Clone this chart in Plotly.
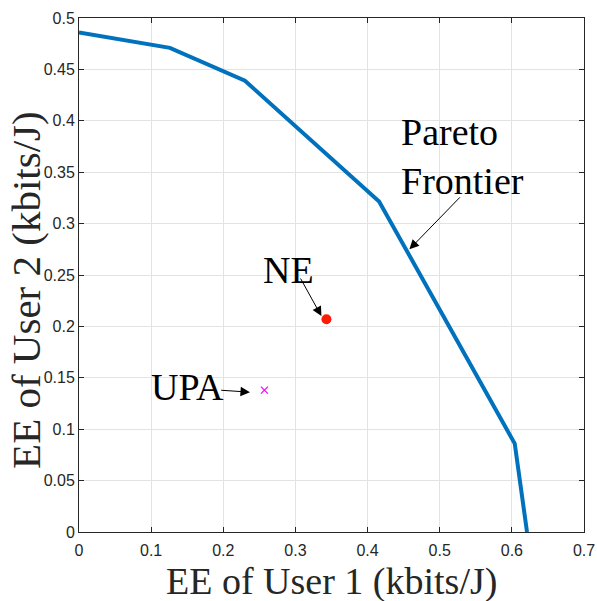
import plotly.graph_objects as go

# Pareto frontier
pareto_x = [0.0, 0.126, 0.230, 0.416, 0.604, 0.621]
pareto_y = [0.486, 0.471, 0.439, 0.3216, 0.086, 0.0]

# Nash equilibrium and uniform power allocation points
ne_x = [0.343]
ne_y = [0.207]
upa_x = [0.257]
upa_y = [0.138]

x_ticks = [0, 0.1, 0.2, 0.3, 0.4, 0.5, 0.6, 0.7]
x_tick_text = ["0", "0.1", "0.2", "0.3", "0.4", "0.5", "0.6", "0.7"]
y_ticks = [0, 0.05, 0.1, 0.15, 0.2, 0.25, 0.3, 0.35, 0.4, 0.45, 0.5]
y_tick_text = ["0", "0.05", "0.1", "0.15", "0.2", "0.25", "0.3", "0.35", "0.4", "0.45", "0.5"]

fig = go.Figure()
fig.add_trace(go.Scatter(x=pareto_x, y=pareto_y, mode="lines",
                         line=dict(color="#0072BD", width=4), showlegend=False))
fig.add_trace(go.Scatter(x=ne_x, y=ne_y, mode="markers",
                         marker=dict(color="#FF1A00", size=10, symbol="circle"),
                         showlegend=False))
fig.add_trace(go.Scatter(x=upa_x, y=upa_y, mode="markers",
                         marker=dict(color="#FF00FF", size=7, symbol="x-thin",
                                     line=dict(color="#FF00FF", width=1.2)),
                         showlegend=False))

serif = "Liberation Serif, Times New Roman, serif"
axis_common = dict(showline=True, linecolor="#262626", linewidth=1, mirror="ticks",
                   ticks="inside", ticklen=5, tickcolor="#262626", automargin=False,
                   showgrid=True, gridcolor="#E3E3E3", gridwidth=1, zeroline=False,
                   tickfont=dict(family="Liberation Sans, Arial, sans-serif", size=16, color="#262626"))

fig.update_xaxes(range=[0, 0.7], tickvals=x_ticks, ticktext=x_tick_text,
                 ticklabelstandoff=4, **axis_common)
fig.update_yaxes(range=[0, 0.5], tickvals=y_ticks, ticktext=y_tick_text, **axis_common)

annotations = [
    # axis titles
    dict(text="EE of User 1 (kbits/J)", xref="paper", yref="paper", x=0.5, y=-0.096,
         showarrow=False, font=dict(family=serif, size=38, color="#262626"),
         xanchor="center", yanchor="middle"),
    dict(text="EE of User 2 (kbits/J)", xref="paper", yref="paper", x=-0.105, y=0.471,
         showarrow=False, textangle=-90, font=dict(family=serif, size=41, color="#262626"),
         xanchor="center", yanchor="middle"),
    # labels
    dict(text="NE", x=0.290, y=0.255, xref="x", yref="y", showarrow=False,
         font=dict(family=serif, size=38, color="black")),
    dict(text="UPA", x=0.150, y=0.141, xref="x", yref="y", showarrow=False,
         font=dict(family=serif, size=38, color="black")),
    dict(text="Pareto<br>Frontier", x=0.443, y=0.365, xref="x", yref="y", showarrow=False,
         xanchor="left", yanchor="middle", align="left",
         font=dict(family=serif, size=38, color="black")),
    # arrows
    dict(text="", x=0.336, y=0.210, ax=0.306, ay=0.248, xref="x", yref="y",
         axref="x", ayref="y", showarrow=True, arrowhead=2, arrowsize=1.9,
         arrowwidth=1, arrowcolor="black"),
    dict(text="", x=0.237, y=0.136, ax=0.195, ay=0.138, xref="x", yref="y",
         axref="x", ayref="y", showarrow=True, arrowhead=2, arrowsize=1.9,
         arrowwidth=1, arrowcolor="black"),
    dict(text="", x=0.458, y=0.275, ax=0.530, ay=0.327, xref="x", yref="y",
         axref="x", ayref="y", showarrow=True, arrowhead=2, arrowsize=1.9,
         arrowwidth=1, arrowcolor="black"),
]

fig.update_layout(width=597, height=601, plot_bgcolor="white", paper_bgcolor="white",
                  margin=dict(l=79, r=13, t=18, b=68.5, pad=0, autoexpand=False),
                  annotations=annotations, showlegend=False)

fig.write_html("out.html", config={"displayModeBar": False},
               post_script="document.body.style.margin='0';document.body.style.padding='0';"
                           "document.body.style.overflow='hidden';")
